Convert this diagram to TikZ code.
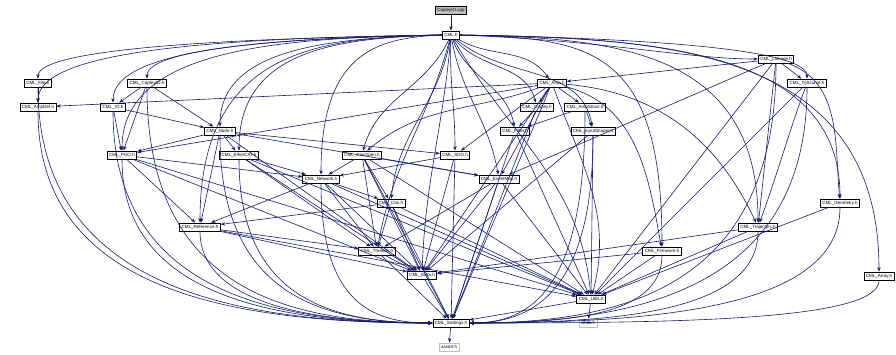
\documentclass[tikz,border=0pt]{standalone}
\usepackage{fontspec}
\setmainfont{Liberation Sans}
\usetikzlibrary{arrows.meta}
\definecolor{dox_navy}{RGB}{25,25,112}

\begin{document}
\begin{tikzpicture}[x=1pt, y=1pt, >={Stealth[length=4.5pt, width=3.4pt]},
    hdr/.style={draw, fill=white, line width=0.8pt, inner xsep=2pt, inner ysep=0pt,
      minimum height=8pt, font=\fontsize{4.5}{5}\selectfont},
    src/.style={hdr, fill=black!25},
    sys/.style={hdr, draw=black!25},
    dep/.style={->, dox_navy, line width=0.6pt}]
  \useasboundingbox (0,0) rectangle (896,-354);
  \node[src] (cpp)        at (451,-10)  {CopleyIO.cpp};
  \node[hdr] (cml)        at (451,-35)  {CML.h};
  \node[hdr] (file)       at (38,-83)   {CML\_File.h};
  \node[hdr] (ampdef)     at (38,-107)  {CML\_AmpDef.h};
  \node[hdr] (copleyio)   at (147,-83)  {CML\_CopleyIO.h};
  \node[hdr] (io)         at (113,-107) {CML\_IO.h};
  \node[hdr] (amp)        at (552,-83)  {CML\_Amp.h};
  \node[hdr] (copley)     at (537,-107) {CML\_Copley.h};
  \node[hdr] (ampstruct)  at (585,-107) {CML\_AmpStruct.h};
  \node[hdr] (linkage)    at (776,-59)  {CML\_Linkage.h};
  \node[hdr] (trjscurve)  at (807,-83)  {CML\_TrjScurve.h};
  \node[hdr] (cmlnode)    at (220,-131) {CML\_Node.h};
  \node[hdr] (filter)     at (515,-131) {CML\_Filter.h};
  \node[hdr] (inshaper)   at (593,-131) {CML\_InputShaper.h};
  \node[hdr] (pdo)        at (122,-155) {CML\_PDO.h};
  \node[hdr] (ethercat)   at (239,-155) {CML\_EtherCAT.h};
  \node[hdr] (canopen)    at (362,-155) {CML\_CanOpen.h};
  \node[hdr] (sdo)        at (455,-155) {CML\_SDO.h};
  \node[hdr] (network)    at (321,-179) {CML\_Network.h};
  \node[hdr] (eventmap)   at (499,-179) {CML\_EventMap.h};
  \node[hdr] (can)        at (391,-203) {CML\_Can.h};
  \node[hdr] (geometry)   at (840,-203) {CML\_Geometry.h};
  \node[hdr] (reference)  at (200,-227) {CML\_Reference.h};
  \node[hdr] (trajectory) at (758,-227) {CML\_Trajectory.h};
  \node[hdr] (threads)    at (377,-251) {CML\_Threads.h};
  \node[hdr] (firmware)   at (662,-251) {CML\_Firmware.h};
  \node[hdr] (error)      at (422,-275) {CML\_Error.h};
  \node[hdr] (array)      at (879,-276) {CML\_Array.h};
  \node[hdr] (utils)      at (591,-299) {CML\_Utils.h};
  \node[hdr] (settings)   at (451,-323) {CML\_Settings.h};
  \node[sys] (limits)     at (588,-323) {limits.h};
  \node[sys] (assert)     at (449,-347) {assert.h};
  % direct includes
  \foreach \x/\y in {cpp/cml, file/ampdef, copleyio/io, copleyio/pdo, copleyio/cmlnode, io/pdo, io/cmlnode,
      cmlnode/pdo, cmlnode/ethercat, cmlnode/sdo, cmlnode/eventmap, cmlnode/reference, cmlnode/error,
      pdo/network, pdo/reference, pdo/error, pdo/utils, ethercat/network, ethercat/threads, ethercat/error,
      ethercat/utils, canopen/network, canopen/can, canopen/eventmap, canopen/threads, canopen/error,
      canopen/utils, sdo/network, sdo/error, network/can, network/reference, network/threads, network/error,
      network/utils, eventmap/threads, eventmap/error, eventmap/utils, can/reference, can/threads, can/error,
      can/utils, reference/threads, reference/error, reference/utils, threads/error, amp/ampdef, amp/copley,
      amp/ampstruct, amp/pdo, amp/sdo, amp/eventmap, amp/error, copley/filter, ampstruct/filter,
      ampstruct/inshaper, linkage/amp, linkage/trjscurve, linkage/eventmap, linkage/trajectory, linkage/utils,
      filter/utils, inshaper/utils, inshaper/error, firmware/error, firmware/utils, trajectory/error,
      trajectory/utils, geometry/utils, trjscurve/utils, utils/limits, settings/assert}
    \draw[dep] (\x) -- (\y);
  % CML.h fans out along the top
  \foreach \t/\a/\b in {file/200/31, ampdef/205/55, copleyio/150/31, io/165/55, pdo/160/103,
      cmlnode/110/79, ethercat/100/103, reference/120/175, network/60/127}
    \draw[dep] (cml.west) .. controls +(-\a,-3) and +(0,\b) .. (\t.north);
  \foreach \t/\a/\b in {trjscurve/170/31, trajectory/150/175, geometry/190/151, array/205/224, firmware/130/199}
    \draw[dep] (cml.east) .. controls +(\a,-3) and +(0,\b) .. (\t.north);
  \draw[dep] (cml.east) .. controls +(150,-6) and +(-70,0) .. (linkage.west);
  \foreach \t/\o/\i in {canopen/-115/75, can/-100/85, sdo/-92/90, threads/-105/80, error/-95/88,
      eventmap/-80/100, filter/-70/100, copley/-50/105, amp/-30/125, inshaper/-40/100, utils/-60/95}
    \draw[dep] (cml) to[out=\o, in=\i] (\t);
  \draw[dep] (amp) to[out=200, in=40] (canopen);
  \draw[dep] (amp) to[out=-15, in=100] (firmware);
  \draw[dep] (amp) to[out=-5, in=115] (trajectory);
  \draw[dep] (amp) to[out=-70, in=75] (utils);
  \draw[dep] (linkage) to[out=-20, in=95] (geometry);
  \draw[dep] (trjscurve) to[out=-110, in=70] (trajectory);
  % everything ends in CML_Settings.h
  \foreach \n/\a/\b in {file/200/200, ampdef/180/200, copleyio/200/150, io/180/160, pdo/140/150,
      cmlnode/160/110, ethercat/140/100, reference/75/110, network/120/60}
    \draw[dep] (\n.south) .. controls +(0,-\a) and +(-\b,0) .. (settings.west);
  \foreach \n/\a/\b in {ampstruct/180/60, inshaper/160/60, firmware/60/100, trajectory/80/150,
      linkage/220/160, trjscurve/200/170, geometry/100/190, array/40/210}
    \draw[dep] (\n.south) .. controls +(0,-\a) and +(\b,0) .. (settings.east);
  \foreach \n in {threads, error, sdo, canopen, can, eventmap, copley, filter, utils, amp}
    \draw[dep] (\n) -- (settings);
\end{tikzpicture}
\end{document}
